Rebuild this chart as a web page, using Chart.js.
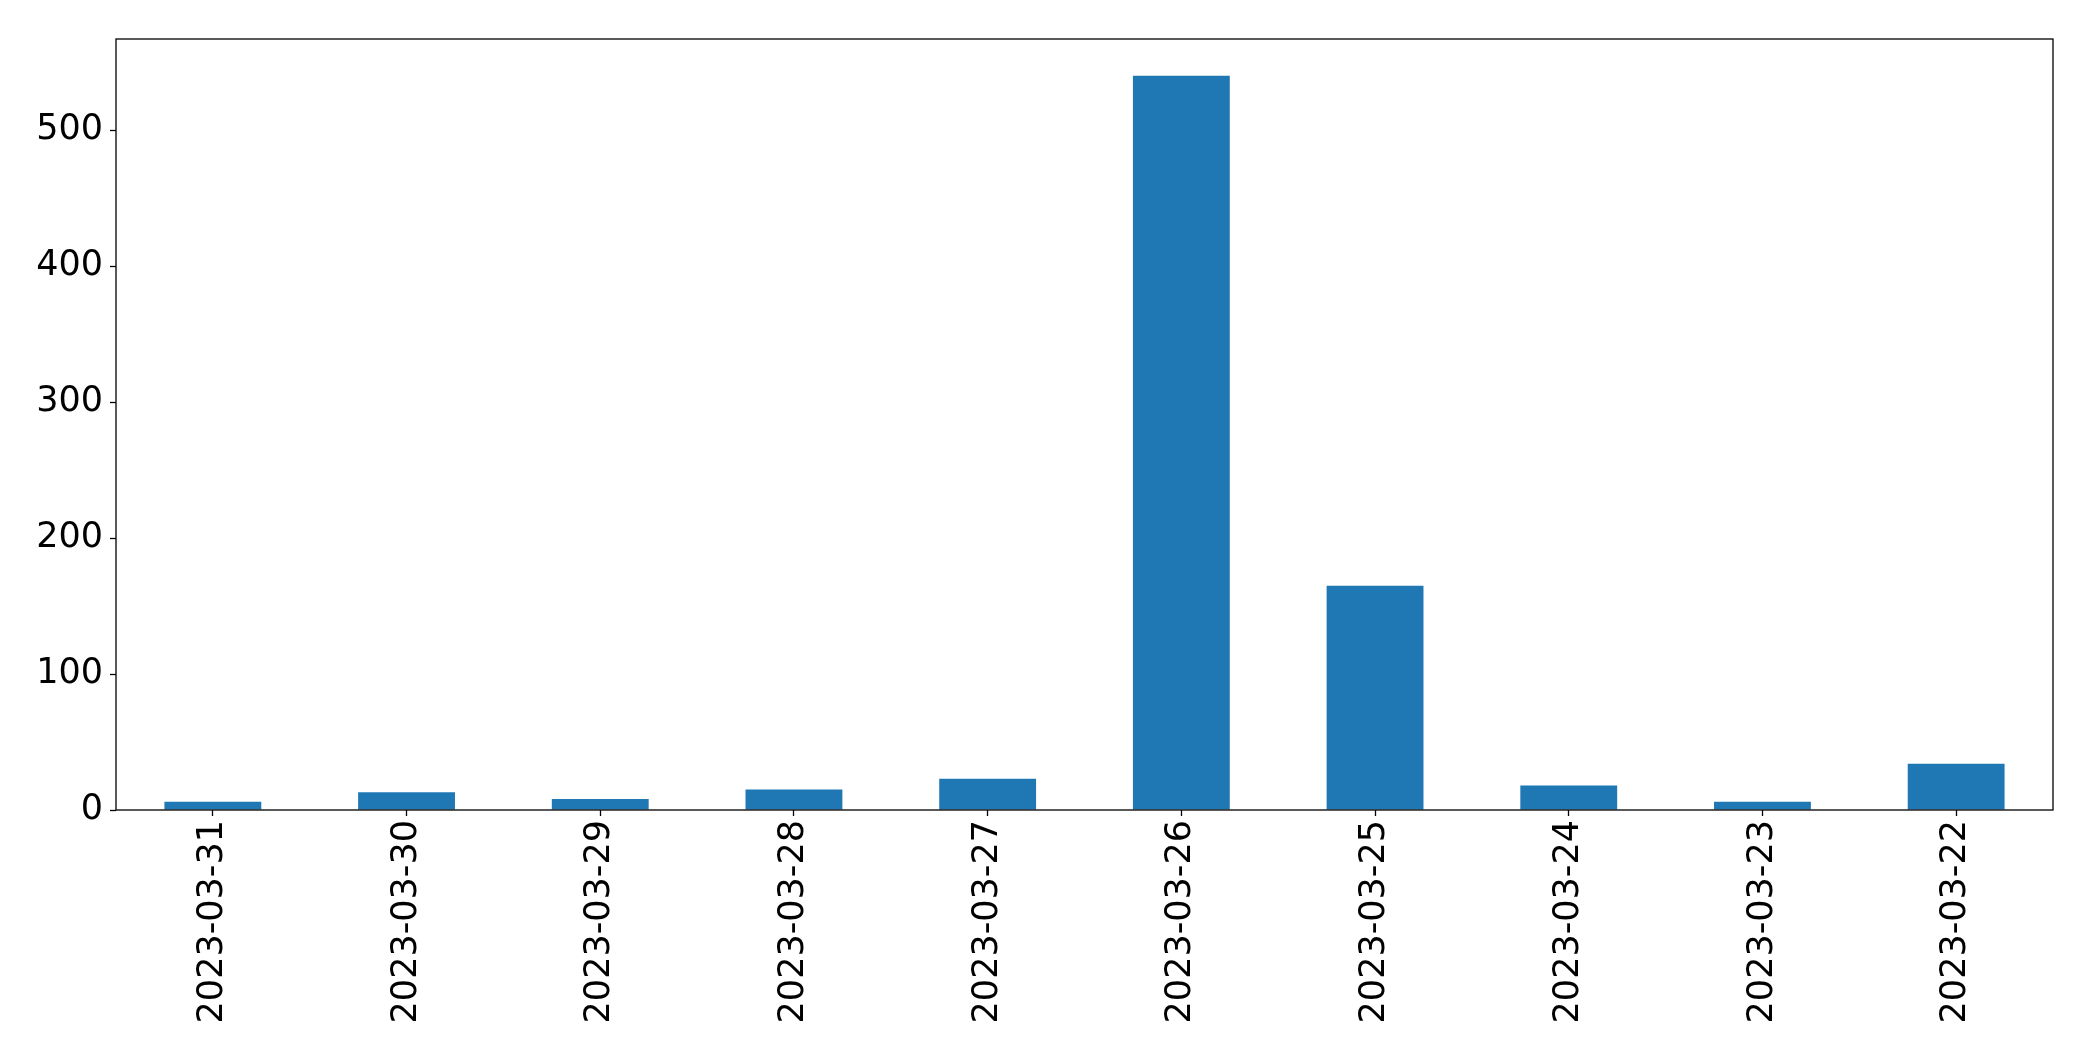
<!DOCTYPE html>
<html>
<head>
<meta charset="utf-8">
<script src="https://cdn.jsdelivr.net/npm/chart.js@4.4.1/dist/chart.umd.min.js"></script>
<style>
    html, body { margin: 0; padding: 0; background: #fff; }
    #wrap { width: 2093px; height: 1061px; }
</style>
</head>
<body>
<div id="wrap"><canvas id="chart" width="2093" height="1061"></canvas></div>
<script>
/* Daily counts, newest first (as in the source plot) */

const dates = ["2023-03-31", "2023-03-30", "2023-03-29", "2023-03-28", "2023-03-27",
               "2023-03-26", "2023-03-25", "2023-03-24", "2023-03-23", "2023-03-22"];
const counts = [6, 13, 8, 15, 23, 540, 165, 18, 6, 34];
const yTicks = [0, 100, 200, 300, 400, 500];
const yMax = 567;

const BAR_COLOR = "#1f77b4";
const FONT = { family: "'DejaVu Sans', sans-serif", size: 35 };

/* ---------- Frame around the plot area (matplotlib spines) ---------- */

const framePlugin = {
    id: "frame",
    afterDraw(chart) {
        const { ctx, chartArea: a } = chart;
        ctx.save();
        ctx.strokeStyle = "#000";
        ctx.lineWidth = 1.3;
        ctx.strokeRect(a.left, a.top, a.right - a.left, a.bottom - a.top);
        ctx.restore();
    }
};

/* ---------- Chart ---------- */

new Chart(document.getElementById("chart"), {
    type: "bar",
    data: {
        labels: dates,
        datasets: [{
            data: counts,
            backgroundColor: BAR_COLOR,
            barPercentage: 0.5,
            categoryPercentage: 1.0,
        }]
    },
    options: {
        responsive: false,
        animation: false,
        layout: { padding: { top: 39, right: 40, left: 0, bottom: 0 } },
        plugins: {
            legend: { display: false },
            tooltip: { enabled: false }
        },
        scales: {
            x: {
                grid: {
                    offset: false,
                    drawOnChartArea: false,
                    color: "#000",
                    tickLength: 6,
                    tickWidth: 1.3
                },
                border: { display: false },
                ticks: {
                    color: "#000",
                    font: FONT,
                    minRotation: 90,
                    maxRotation: 90,
                    padding: 4,
                    autoSkip: false
                },
                afterFit: (scale) => { scale.height = 251; }
            },
            y: {
                min: 0,
                max: yMax,
                grid: {
                    drawOnChartArea: false,
                    color: "#000",
                    tickLength: 6,
                    tickWidth: 1.3
                },
                border: { display: false },
                ticks: {
                    color: "#000",
                    font: FONT,
                    padding: 7
                },
                afterBuildTicks: (scale) => {
                    scale.ticks = yTicks.map(v => ({ value: v }));
                },
                afterFit: (scale) => { scale.width = 116; }
            }
        }
    },
    plugins: [framePlugin]
});
</script>
</body>
</html>
